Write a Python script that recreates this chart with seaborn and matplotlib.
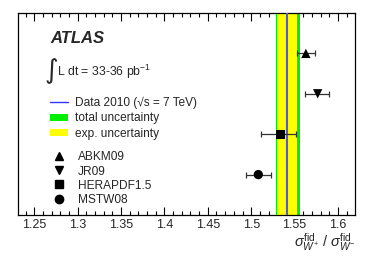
import matplotlib
matplotlib.use("Agg")
import matplotlib.pyplot as plt
from matplotlib.lines import Line2D
from matplotlib.patches import Patch
from matplotlib.ticker import MultipleLocator
import seaborn as sns
import pandas as pd

# ---- data ----
pdf_names = ["ABKM09", "JR09", "HERAPDF1.5", "MSTW08"]
pdf_values = [1.563, 1.5766, 1.534, 1.5082]
pdf_err_lo = [0.010, 0.0142, 0.0227, 0.0137]
pdf_err_hi = [0.0105, 0.013, 0.018, 0.0144]
pdf_rows = [4, 3, 2, 1]
pdf_markers = ["^", "v", "s", "o"]

data_value = 1.5416
exp_unc = (1.530, 1.553)
tot_unc = (1.5286, 1.5562)

xticks = [1.25, 1.3, 1.35, 1.4, 1.45, 1.5, 1.55, 1.6]
xtick_labels = ["1.25", "1.3", "1.35", "1.4", "1.45", "1.5", "1.55", "1.6"]

sns.set_style("white")
plt.rcParams["font.family"] = ["Liberation Sans", "DejaVu Sans"]
plt.rcParams["mathtext.fontset"] = "custom"
plt.rcParams["mathtext.rm"] = "Liberation Sans"
plt.rcParams["mathtext.it"] = "Liberation Sans:italic"
plt.rcParams["mathtext.bf"] = "Liberation Sans:bold"

df = pd.DataFrame({"name": pdf_names, "value": pdf_values, "row": pdf_rows})

fig = plt.figure(figsize=(3.74, 2.57), dpi=100)
ax = fig.add_axes([18/374, 42/257, 337/374, 202/257])

ax.axvspan(tot_unc[0], tot_unc[1], color="#00ee00", lw=0, zorder=1)
ax.axvspan(exp_unc[0], exp_unc[1], color="#ffff00", lw=0, zorder=2)
ax.axvline(data_value, color="#5a5ac8", lw=1.5, zorder=3)

ax.errorbar(pdf_values, pdf_rows, xerr=[pdf_err_lo, pdf_err_hi], fmt="none",
            ecolor="#333333", elinewidth=0.9, capsize=2.5, capthick=0.9, zorder=4)
sns.scatterplot(data=df, x="value", y="row", style="name",
                markers=dict(zip(pdf_names, pdf_markers)), color="black",
                s=45, edgecolor="black", linewidth=0, legend=False, ax=ax, zorder=5)

ax.set_xlim(1.2313, 1.6196)
ax.set_ylim(0, 5)
ax.set_xticks(xticks)
ax.set_xticklabels(xtick_labels, fontsize=9)
ax.xaxis.set_minor_locator(MultipleLocator(0.01))
ax.set_yticks([])
ax.tick_params(axis="x", which="major", direction="in", top=True, bottom=True,
               length=6, width=0.8, pad=3, color="black")
ax.tick_params(axis="x", which="minor", direction="in", top=True, bottom=True,
               length=3, width=0.8, color="black")
for sp in ax.spines.values():
    sp.set_color("black")
    sp.set_linewidth(0.9)
ax.set_ylabel("")
ax.set_xlabel(r"$\sigma^{\mathrm{fid}}_{W^{+}}$ / $\sigma^{\mathrm{fid}}_{W^{-}}$",
              loc="right", fontsize=10.5, labelpad=0)

ax.text(0.095, 0.875, "ATLAS", transform=ax.transAxes, fontsize=12,
        fontweight="bold", fontstyle="italic", va="center", ha="left")
ax.text(0.100, 0.71, "\u222b", transform=ax.transAxes, fontsize=19,
        va="center", ha="center", family="DejaVu Sans")
ax.text(0.117, 0.71, r"L dt = 33-36 pb$^{\mathregular{-1}}$", transform=ax.transAxes,
        fontsize=8.8, va="center", ha="left")

h1 = [Line2D([], [], color="#3333ff", lw=1),
      Patch(facecolor="#00ee00", edgecolor="none"),
      Patch(facecolor="#ffff00", edgecolor="none")]
l1 = ["Data 2010 (\u221as = 7 TeV)", "total uncertainty", "exp. uncertainty"]
leg1 = ax.legend(h1, l1, loc="upper left", bbox_to_anchor=(0.095, 0.585),
                 frameon=False, fontsize=8.6, handlelength=1.5, handleheight=0.55,
                 labelspacing=0.28, handletextpad=0.6, borderaxespad=0, borderpad=0)
ax.add_artist(leg1)

h2 = [Line2D([], [], color="black", marker=m, ls="none", markersize=6) for m in pdf_markers]
ax.legend(h2, pdf_names, loc="upper left", bbox_to_anchor=(0.095, 0.315),
          frameon=False, fontsize=8.6, handlelength=1.5, labelspacing=0.18,
          handletextpad=0.85, borderaxespad=0, borderpad=0)

fig.savefig("out.png", dpi=100)
